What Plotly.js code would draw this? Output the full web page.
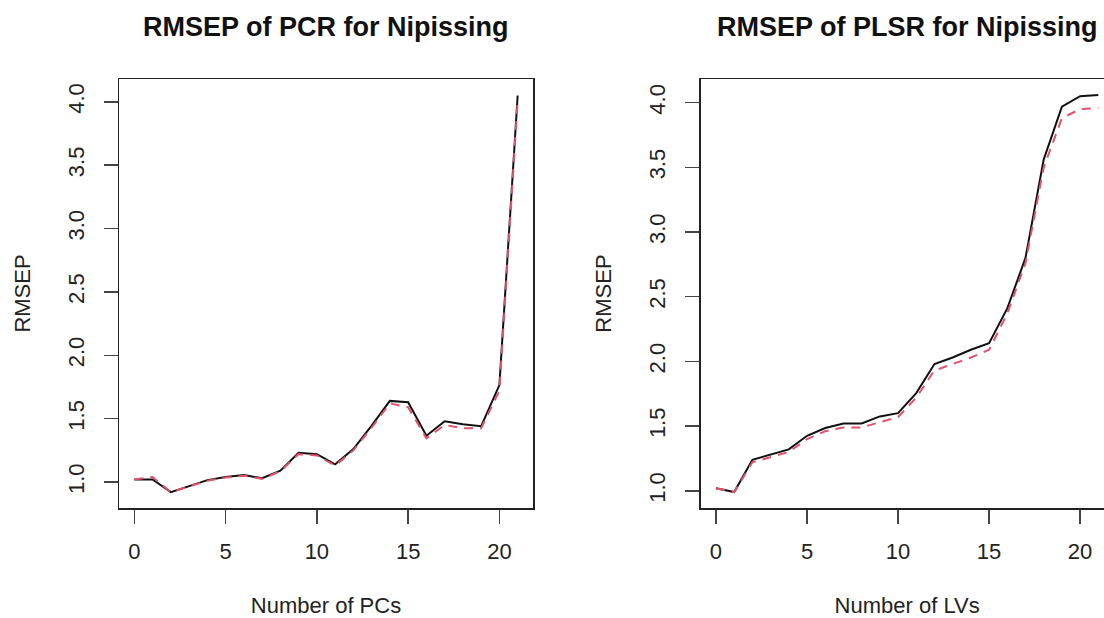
<!DOCTYPE html>
<html>
<head>
<meta charset="utf-8">
<script src="https://cdn.plot.ly/plotly-3.0.1.min.js"></script>
<style>
html, body { margin: 0; padding: 0; overflow: hidden; background: #fff; }
#chart { width: 1120px; height: 618px; }
</style>
</head>
<body>
<div id="chart"></div>
<script>
// Number of components
const ncomp = [0,1,2,3,4,5,6,7,8,9,10,11,12,13,14,15,16,17,18,19,20,21];
// PCR RMSEP (CV solid black, adjCV dashed red)
const pcrCV    = [1.02,1.02,0.92,0.97,1.015,1.04,1.055,1.03,1.09,1.23,1.22,1.14,1.26,1.445,1.64,1.63,1.365,1.48,1.455,1.44,1.765,4.05];
const pcrAdjCV = [1.02,1.04,0.92,0.965,1.01,1.035,1.05,1.025,1.085,1.22,1.21,1.13,1.25,1.43,1.62,1.59,1.345,1.45,1.425,1.425,1.72,4.01];
// PLSR RMSEP
const plsCV    = [1.02,0.99,1.24,1.28,1.32,1.425,1.485,1.52,1.52,1.575,1.60,1.755,1.98,2.03,2.09,2.14,2.41,2.80,3.56,3.97,4.05,4.06];
const plsAdjCV = [1.02,0.99,1.22,1.26,1.30,1.40,1.46,1.49,1.49,1.53,1.57,1.72,1.93,1.98,2.03,2.09,2.37,2.76,3.50,3.88,3.95,3.96];
// Tick labels
const xTicks = [0,5,10,15,20];
const yTicks = [1.0,1.5,2.0,2.5,3.0,3.5,4.0];
const yTickText = ["1.0","1.5","2.0","2.5","3.0","3.5","4.0"];
const titles = ["RMSEP of PCR for Nipissing","RMSEP of PLSR for Nipissing"];
const xTitles = ["Number of PCs","Number of LVs"];
const yTitle = "RMSEP";

const W = 1120, H = 618;
const FONT = "Liberation Sans, Arial, Helvetica, sans-serif";
const black = "#111111", red = "#DF536B";

function tr(y, xa, ya, color, dash) {
  return {x: ncomp, y: y, xaxis: xa, yaxis: ya, mode: "lines", type: "scatter",
          line: {color: color, width: 2, dash: dash}, hoverinfo: "skip", showlegend: false};
}
const data = [
  tr(pcrCV, "x", "y", black, "solid"),
  tr(pcrAdjCV, "x", "y", red, "9px,7px"),
  tr(plsCV, "x2", "y2", black, "solid"),
  tr(plsAdjCV, "x2", "y2", red, "9px,7px")
];

function xax(dom, title, anchor) {
  return {domain: dom, anchor: anchor, range: [-0.84, 21.84], tickmode: "array", tickvals: xTicks,
    ticks: "outside", ticklen: 14, tickwidth: 1.5, tickcolor: "#444", ticklabelstandoff: 9,
    showline: true, linecolor: "#222", linewidth: 1.5, mirror: true,
    showgrid: false, zeroline: false, fixedrange: true,
    tickfont: {family: FONT, size: 22, color: "#222"},
    title: {text: title, font: {family: FONT, size: 22, color: "#222"}, standoff: 35}};
}
function yax(dom, range, anchor) {
  return {domain: dom, anchor: anchor, range: range, tickmode: "array", tickvals: yTicks, ticktext: yTickText,
    tickangle: -90, ticks: "outside", ticklen: 14, tickwidth: 1.5, tickcolor: "#444", ticklabelstandoff: 11,
    showline: true, linecolor: "#222", linewidth: 1.5, mirror: true,
    showgrid: false, zeroline: false, fixedrange: true,
    tickfont: {family: FONT, size: 22, color: "#222"},
    title: {text: yTitle, font: {family: FONT, size: 22, color: "#222"}, standoff: 27}};
}
const yDom = [(H - 508) / H, (H - 79) / H];
const layout = {
  width: W, height: H, margin: {l: 0, r: 0, t: 0, b: 0},
  paper_bgcolor: "#fff", plot_bgcolor: "#fff", showlegend: false,
  xaxis: xax([119 / W, 533 / W], xTitles[0], "y"),
  yaxis: yax(yDom, [0.795, 4.18], "x"),
  xaxis2: xax([700.7 / W, 1113.6 / W], xTitles[1], "y2"),
  yaxis2: yax(yDom, [0.867, 4.183], "x2"),
  annotations: [
    {text: "<b>" + titles[0] + "</b>", xref: "paper", yref: "paper", x: 326 / W, y: (H - 27) / H,
     xanchor: "center", yanchor: "middle", showarrow: false, font: {family: FONT, size: 27, color: "#111"}},
    {text: "<b>" + titles[1] + "</b>", xref: "paper", yref: "paper", x: 907 / W, y: (H - 27) / H,
     xanchor: "center", yanchor: "middle", showarrow: false, font: {family: FONT, size: 27, color: "#111"}}
  ]
};
Plotly.newPlot("chart", data, layout, {staticPlot: true, displayModeBar: false});
</script>
</body>
</html>
